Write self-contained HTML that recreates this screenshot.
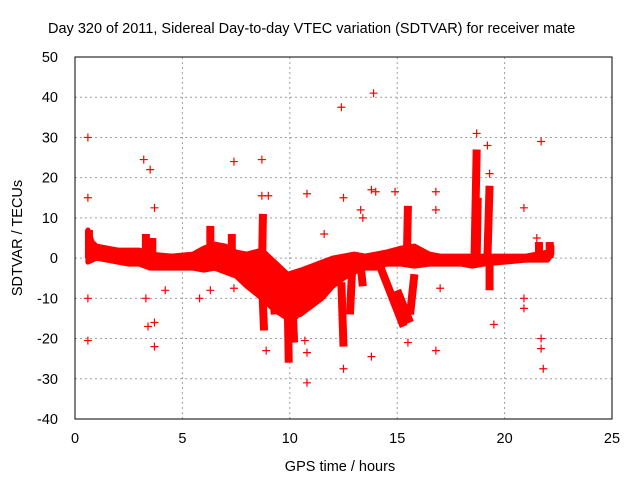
<!DOCTYPE html>
<html><head><meta charset="utf-8"><style>
body{margin:0;background:#fff;width:640px;height:480px;overflow:hidden}
svg text{font-family:"Liberation Sans",sans-serif;fill:#000}
</style></head><body>
<svg id="c" width="640" height="480">
<text x="48" y="33" font-size="14.5">Day 320 of 2011, Sidereal Day-to-day VTEC variation (SDTVAR) for receiver mate</text>
<text x="340" y="471" font-size="14.5" text-anchor="middle">GPS time / hours</text>
<text transform="translate(22,238) rotate(-90)" font-size="14.5" text-anchor="middle">SDTVAR / TECUs</text>
<g id="grid"></g>
<g id="marks"></g>
<rect x="75" y="57" width="537" height="362" fill="none" stroke="#000" stroke-width="1"/>
</svg>
<script>
const xTicks=[0,5,10,15,20,25];
const yTicks=[-40,-30,-20,-10,0,10,20,30,40,50];
const bandHours=[0.6,0.8,1.0,2.0,2.5,3.0,3.5,4.5,5.5,6.0,6.5,7.0,7.5,8.0,8.7,9.3,9.9,10.5,11,11.5,12,12.5,13,13.5,14,14.5,15.2,15.8,16.5,17,18,18.5,19,20,21,22,22.2];
const bandLow=[-1,-0.5,0,-1,-1.5,-1.5,-2.5,-2.5,-2.5,-3,-2.5,-3.5,-4.5,-7,-10,-13,-15,-14,-12,-10,-7,-5,-3.5,-2.5,-2.5,-1.5,-1.5,-2,-1.5,-1.5,-1.5,-2,-1.5,-1,-0.5,-0.5,1];
const bandHigh=[7,4,3,2,2,2,1,0.5,1,2.5,3.5,3,1.5,1,2,-1,-4,-3,-2,-1,0,0.5,1,0.5,1,1.5,2.5,3,1,0.5,0.5,0.5,0.5,0.5,0.5,1.5,3];
const spikeStart=[0.65,3.3,3.6,6.3,7.3,8.7,8.7,9.2,9.9,10.1,12.4,12.9,13.3,14.2,15.0,15.45,15.8,18.6,18.7,19.2,19.3,21.6,22.1,9.6,10.9];
const spikeEnd=[0.65,3.3,3.6,6.3,7.3,8.75,8.8,9.3,9.95,10.2,12.5,12.8,13.4,15.3,15.6,15.5,15.6,18.7,18.75,19.3,19.3,21.6,22.1,12.0,12.6];
const spikeFrom=[0,-2,-3,0,0,-4,-5,-8,-10,-8,-6,-3,-2,-2,-8,0,-4,0,0,0,-1,-1,0,-11,-11];
const spikeTo=[7,6,5,8,6,11,-18,-14,-26,-21,-22,-14,-7,-17,-16,13,-14,27,15,18,-8,4,4,-3,-2];
const outHour=[0.6,0.6,0.6,0.6,3.2,3.5,3.4,3.7,3.7,3.7,3.3,4.2,7.4,8.7,8.7,9.0,8.9,10.8,10.8,10.8,10.7,12.4,12.5,12.5,13.8,13.9,14.0,13.8,15.5,16.8,16.8,16.8,18.7,19.2,19.3,19.5,20.9,20.9,20.9,21.7,21.7,21.8,21.7,21.5,17.0,7.4,5.8,6.3,11.6,13.3,13.4,14.9,9.5,10.2];
const outVal=[30,15,-10,-20.5,24.5,22,-17,-16,-22,12.5,-10,-8,24,24.5,15.5,15.5,-23,16,-31,-23.5,-20.5,37.5,15,-27.5,-24.5,41,16.5,17,-21,16.5,-23,12,31,28,21,-16.5,12.5,-10,-12.5,29,-22.5,-27.5,-20,5,-7.5,-7.5,-10,-8,6,12,10,16.5,-11,-15];
const X=h=>75+h*537/25, Y=v=>419-(v+40)*362/90;
const NS="http://www.w3.org/2000/svg";
const grid=document.getElementById('grid'), marks=document.getElementById('marks'), svg=document.getElementById('c');
function mk(t,a,p){const e=document.createElementNS(NS,t);for(const k in a)e.setAttribute(k,a[k]);p.appendChild(e);return e;}
xTicks.forEach(t=>{
  if(t>0&&t<25){const g=mk('line',{x1:X(t),x2:X(t),y1:57,y2:419,stroke:'#a0a0a0','stroke-dasharray':'2,3'},grid);
  
  }
  const l=mk('text',{x:X(t),y:443,'font-size':14.5,'text-anchor':'middle'},svg);l.textContent=t;
  
  
});
yTicks.forEach(t=>{
  if(t>-40&&t<50){const g=mk('line',{x1:75,x2:612,y1:Y(t),y2:Y(t),stroke:'#a0a0a0','stroke-dasharray':'2,3'},grid);
  
  }
  const l=mk('text',{x:58,y:Y(t)+5,'font-size':14.5,'text-anchor':'end'},svg);l.textContent=t;
  
  
});
let pts=bandHours.map((h,i)=>X(h)+','+Y(bandHigh[i]));
for(let i=bandHours.length-1;i>=0;i--)pts.push(X(bandHours[i])+','+Y(bandLow[i]));
const band=mk('polygon',{points:pts.join(' '),fill:'#f00',stroke:'#f00','stroke-width':5,'stroke-linejoin':'round'},marks);


spikeStart.forEach((h,i)=>{
  const s=mk('line',{x1:X(h),x2:X(spikeEnd[i]),y1:Y(spikeFrom[i]),y2:Y(spikeTo[i]),stroke:'#f00','stroke-width':8},marks);
  
  
});
outHour.forEach((h,i)=>{
  const x=X(h),y=Y(outVal[i]);
  const p=mk('path',{d:`M${x-4},${y}H${x+4}M${x},${y-4}V${y+4}`,stroke:'#f00','stroke-width':1.2,fill:'none'},marks);
  
  
});
</script>
</body></html>
